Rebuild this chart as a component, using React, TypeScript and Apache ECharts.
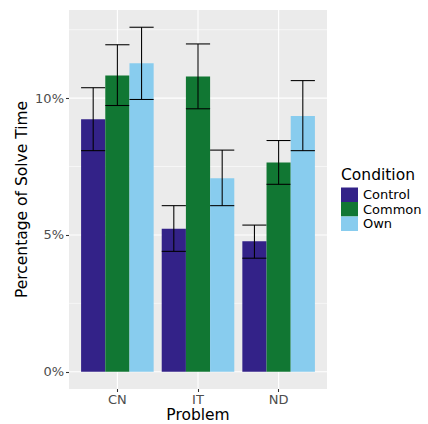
import React, { useEffect, useRef } from "react";
import * as echarts from "echarts";

const categories = ["CN", "IT", "ND"];
const conditions = ["Control", "Common", "Own"];
const colors = ["#332288", "#117733", "#88CCEE"];

const controlMean = [9.23, 5.23, 4.77];
const controlLow = [8.08, 4.4, 4.15];
const controlHigh = [10.38, 6.07, 5.36];

const commonMean = [10.83, 10.79, 7.65];
const commonLow = [9.73, 9.61, 6.85];
const commonHigh = [11.95, 11.98, 8.45];

const ownMean = [11.27, 7.07, 9.35];
const ownLow = [9.95, 6.07, 8.08];
const ownHigh = [12.59, 8.1, 10.64];

const yMajor = [0, 5, 10];
const yMinor = [2.5, 7.5, 12.5];
const xMajor = [1, 2, 3];

const FONT = "DejaVu Sans";
const DODGE = 0.3;
const BAR_W = 0.3;

function barSeries(name: string, color: string, mean: number[], lo: number[], hi: number[], s: number) {
  return {
    type: "custom",
    name,
    z: 3,
    itemStyle: { color },
    data: categories.map((c, i) => [i + 1, mean[i], lo[i], hi[i]]),
    encode: { x: 0, y: [1, 2, 3] },
    renderItem: (params: any, api: any) => {
      const xc = api.value(0) + (s - 1) * DODGE;
      const p0 = api.coord([xc - BAR_W / 2, 0]);
      const p1 = api.coord([xc + BAR_W / 2, api.value(1)]);
      const pc = api.coord([xc, api.value(2)]);
      const ph = api.coord([xc, api.value(3)]);
      const lw = 1.07;
      const es = { stroke: "#000000", lineWidth: lw };
      return {
        type: "group",
        children: [
          {
            type: "rect",
            shape: { x: p0[0], y: p1[1], width: p1[0] - p0[0], height: p0[1] - p1[1] },
            style: { fill: color },
          },
          { type: "line", shape: { x1: pc[0], y1: pc[1], x2: pc[0], y2: ph[1] }, style: es },
          { type: "line", shape: { x1: p0[0], y1: pc[1], x2: p1[0], y2: pc[1] }, style: es },
          { type: "line", shape: { x1: p0[0], y1: ph[1], x2: p1[0], y2: ph[1] }, style: es },
        ],
      };
    },
  };
}

export default function App() {
  const ref = useRef<HTMLDivElement>(null);
  useEffect(() => {
    document.body.style.margin = "0";
    const chart = echarts.init(ref.current!, null, { renderer: "svg" });
    const gridSeries = {
      type: "custom",
      name: "__grid",
      z: 1,
      silent: true,
      data: [[0]],
      encode: { x: 0 },
      renderItem: (params: any, api: any) => {
        const cs = params.coordSys;
        const children: any[] = [];
        yMinor.forEach((v) => {
          const y = api.coord([1, v])[1];
          children.push({ type: "line", shape: { x1: cs.x, y1: y, x2: cs.x + cs.width, y2: y }, style: { stroke: "#FFFFFF", lineWidth: 0.55 } });
        });
        yMajor.forEach((v) => {
          const y = api.coord([1, v])[1];
          children.push({ type: "line", shape: { x1: cs.x, y1: y, x2: cs.x + cs.width, y2: y }, style: { stroke: "#FFFFFF", lineWidth: 1.1 } });
        });
        xMajor.forEach((v) => {
          const x = api.coord([v, 0])[0];
          children.push({ type: "line", shape: { x1: x, y1: cs.y, x2: x, y2: cs.y + cs.height }, style: { stroke: "#FFFFFF", lineWidth: 1.1 } });
        });
        return { type: "group", children };
      },
    };
    chart.setOption({
      animation: false,
      textStyle: { fontFamily: FONT },
      title: {
        text: "Condition",
        left: 341,
        top: 167,
        padding: 0,
        textStyle: { fontFamily: FONT, fontSize: 15.5, fontWeight: "normal", color: "#000000" },
      },
      legend: {
        data: conditions,
        orient: "vertical",
        left: 341,
        top: 187.5,
        padding: 0,
        itemGap: 0,
        itemWidth: 17,
        itemHeight: 14.5,
        icon: "rect",
        textStyle: { fontFamily: FONT, fontSize: 13, color: "#000000" },
      },
      grid: {
        left: 69,
        top: 10,
        width: 258,
        height: 379,
        show: true,
        backgroundColor: "#EBEBEB",
        borderWidth: 0,
        containLabel: false,
        outerBoundsMode: "none",
      },
      xAxis: {
        type: "value",
        min: 0.4,
        max: 3.6,
        name: "Problem",
        nameLocation: "middle",
        nameGap: 18,
        nameMoveOverlap: false,
        nameTextStyle: { fontFamily: FONT, fontSize: 15.5, color: "#000000" },
        axisLine: { show: false, onZero: false },
        axisTick: { show: true, customValues: xMajor, length: 3, lineStyle: { color: "#333333", width: 1.07 } },
        axisLabel: {
          customValues: xMajor,
          formatter: (v: number) => categories[Math.round(v) - 1] ?? "",
          margin: 4,
          fontFamily: FONT,
          fontSize: 13,
          color: "#4D4D4D",
        },
        splitLine: { show: false },
      },
      yAxis: {
        type: "value",
        min: -0.63,
        max: 13.22,
        name: "Percentage of Solve Time",
        nameLocation: "middle",
        nameGap: 39,
        nameMoveOverlap: false,
        nameTextStyle: { fontFamily: FONT, fontSize: 15.5, color: "#000000" },
        axisLine: { show: false, onZero: false },
        axisTick: { show: true, customValues: yMajor, length: 3, lineStyle: { color: "#333333", width: 1.07 } },
        axisLabel: {
          customValues: yMajor,
          formatter: (v: number) => `${v}%`,
          margin: 5,
          fontFamily: FONT,
          fontSize: 13,
          color: "#4D4D4D",
        },
        splitLine: { show: false },
      },
      series: [
        gridSeries,
        barSeries(conditions[0], colors[0], controlMean, controlLow, controlHigh, 0),
        barSeries(conditions[1], colors[1], commonMean, commonLow, commonHigh, 1),
        barSeries(conditions[2], colors[2], ownMean, ownLow, ownHigh, 2),
      ],
    });
    return () => chart.dispose();
  }, []);
  return <div ref={ref} style={{ width: 428, height: 424 }} />;
}
